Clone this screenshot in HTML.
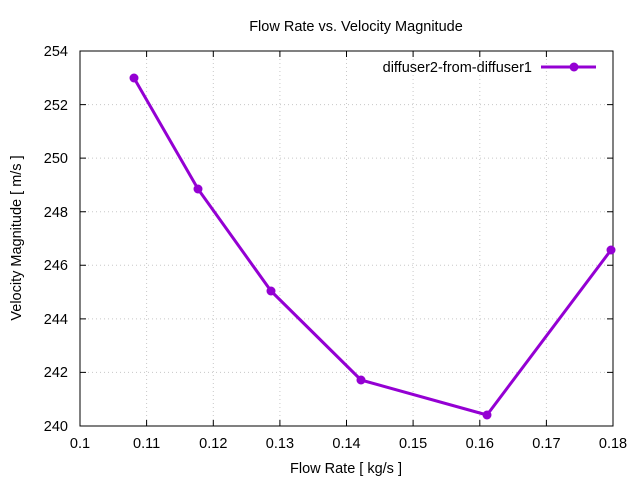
<!DOCTYPE html>
<html><head><style>body{margin:0;background:#fff}svg{display:block}</style></head><body>
<svg width="640" height="480" xmlns="http://www.w3.org/2000/svg" font-family="Liberation Sans, sans-serif" font-size="14.5">
<rect width="640" height="480" fill="#fff"/>
<g stroke="#c8c8c8" stroke-width="1" stroke-dasharray="1,3">
<line x1="146.6" y1="51" x2="146.6" y2="426"/><line x1="213.3" y1="51" x2="213.3" y2="426"/><line x1="279.9" y1="51" x2="279.9" y2="426"/><line x1="346.5" y1="51" x2="346.5" y2="426"/><line x1="413.1" y1="51" x2="413.1" y2="426"/><line x1="479.8" y1="51" x2="479.8" y2="426"/><line x1="546.4" y1="51" x2="546.4" y2="426"/>
<line x1="80" y1="104.6" x2="613" y2="104.6"/><line x1="80" y1="158.1" x2="613" y2="158.1"/><line x1="80" y1="211.7" x2="613" y2="211.7"/><line x1="80" y1="265.3" x2="613" y2="265.3"/><line x1="80" y1="318.9" x2="613" y2="318.9"/><line x1="80" y1="372.4" x2="613" y2="372.4"/>
</g>
<rect x="80" y="51" width="533" height="375" fill="none" stroke="#000" stroke-width="1"/>
<g stroke="#000" stroke-width="1">
<path d="M80,426v-6M146.6,426v-6M213.3,426v-6M279.9,426v-6M346.5,426v-6M413.1,426v-6M479.8,426v-6M546.4,426v-6M613,426v-6M80,51v6M146.6,51v6M213.3,51v6M279.9,51v6M346.5,51v6M413.1,51v6M479.8,51v6M546.4,51v6M613,51v6"/>
<path d="M80,51h6M80,104.6h6M80,158.1h6M80,211.7h6M80,265.3h6M80,318.9h6M80,372.4h6M80,426h6M613,51h-6M613,104.6h-6M613,158.1h-6M613,211.7h-6M613,265.3h-6M613,318.9h-6M613,372.4h-6M613,426h-6"/>
</g>
<g text-anchor="middle">
<text x="80" y="448">0.1</text><text x="146.6" y="448">0.11</text><text x="213.3" y="448">0.12</text><text x="279.9" y="448">0.13</text><text x="346.5" y="448">0.14</text><text x="413.1" y="448">0.15</text><text x="479.8" y="448">0.16</text><text x="546.4" y="448">0.17</text><text x="613" y="448">0.18</text>
</g>
<g text-anchor="end">
<text x="68" y="56">254</text><text x="68" y="110">252</text><text x="68" y="163">250</text><text x="68" y="217">248</text><text x="68" y="270">246</text><text x="68" y="324">244</text><text x="68" y="377">242</text><text x="68" y="431">240</text>
</g>
<text x="356" y="31" text-anchor="middle">Flow Rate vs. Velocity Magnitude</text>
<text x="346" y="473" text-anchor="middle">Flow Rate [ kg/s ]</text>
<text transform="translate(21,238) rotate(-90)" text-anchor="middle">Velocity Magnitude [ m/s ]</text>
<text x="532" y="72" text-anchor="end">diffuser2-from-diffuser1</text>
<line x1="541" y1="67" x2="596" y2="67" stroke="#9400d3" stroke-width="3"/>
<circle cx="574" cy="67" r="4.5" fill="#9400d3"/>
<polyline points="134,78 198,189 271,291 361,380 487,415 611,250" fill="none" stroke="#9400d3" stroke-width="3" stroke-linejoin="round"/>
<g fill="#9400d3"><circle cx="134" cy="78" r="4.5"/><circle cx="198" cy="189" r="4.5"/><circle cx="271" cy="291" r="4.5"/><circle cx="361" cy="380" r="4.5"/><circle cx="487" cy="415" r="4.5"/><circle cx="611" cy="250" r="4.5"/></g>
</svg>
</body></html>
